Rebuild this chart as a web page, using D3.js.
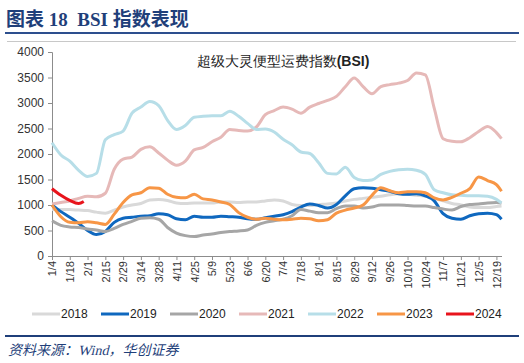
<!DOCTYPE html>
<html>
<head>
<meta charset="utf-8">
<script src="https://cdn.jsdelivr.net/npm/d3@7"></script>
<style>
  body { margin: 0; background: #fff; }
  svg { display: block; }
</style>
</head>
<body>
<div id="chart"></div>
<script>
// tick labels (every 14 days, 2024 calendar)
const tickLabels = ['1/4', '1/18', '2/1', '2/15', '2/29', '3/14', '3/28', '4/11', '4/25', '5/9', '5/23', '6/6', '6/20',
  '7/4', '7/18', '8/1', '8/15', '8/29', '9/12', '9/26', '10/10', '10/24', '11/7', '11/21', '12/5', '12/19'];

// weekly sample days (days after 1/4) plus last reading
const days = d3.range(0, 351, 7).concat([354]);
const days2024 = [0, 7, 14, 21, 25];

const years = ['2018', '2019', '2020', '2021', '2022', '2023', '2024'];
const colors = ['#d9d9d9', '#0f68bf', '#a6a6a6', '#e6b9b8', '#b7dee8', '#f79646', '#e8141c'];

const v2018 = [910, 910, 910, 900, 890, 860, 840, 900, 960, 1000, 1030, 1100, 1110, 1090, 1040, 1030, 1040, 1040,
  1040, 1060, 1060, 1050, 1060, 1060, 1080, 1100, 1080, 1010, 990, 990, 1010, 1020, 1040, 1080, 1110, 1130, 1150,
  1170, 1200, 1220, 1210, 1190, 1170, 1130, 1080, 1030, 1000, 960, 950, 950, 970, 980];
const v2019 = [1000, 870, 760, 640, 500, 420, 480, 660, 740, 760, 780, 790, 830, 810, 730, 710, 780, 760, 760, 780,
  770, 760, 730, 720, 750, 780, 810, 870, 960, 1020, 990, 940, 1010, 1180, 1320, 1340, 1330, 1300, 1270, 1220, 1210,
  1220, 1180, 1080, 830, 740, 720, 790, 830, 840, 810, 720];
const v2020 = [690, 600, 570, 560, 530, 510, 480, 540, 620, 680, 740, 750, 720, 560, 450, 400, 380, 410, 430, 460,
  480, 490, 510, 600, 660, 690, 720, 790, 910, 880, 850, 850, 930, 980, 980, 940, 960, 1000, 1000, 1000, 990, 980,
  980, 950, 920, 900, 970, 1010, 1020, 1040, 1050, 1040];
const v2021 = [1020, 1050, 1080, 1130, 1170, 1160, 1230, 1700, 1900, 1940, 2090, 2140, 2020, 1880, 1780, 1860, 2080,
  2130, 2240, 2330, 2480, 2460, 2450, 2530, 2770, 2850, 2920, 2880, 2800, 2920, 2990, 3050, 3130, 3320, 3490, 3320,
  3180, 3320, 3360, 3390, 3440, 3590, 3550, 2900, 2300, 2250, 2240, 2320, 2440, 2540, 2420, 2300];
const v2022 = [2220, 1980, 1860, 1680, 1560, 1620, 2280, 2380, 2450, 2800, 2920, 3030, 2950, 2660, 2480, 2560, 2720,
  2740, 2750, 2750, 2840, 2740, 2600, 2480, 2490, 2430, 2290, 2180, 2040, 2010, 1830, 1620, 1610, 1740, 1540, 1480,
  1490, 1600, 1660, 1690, 1700, 1680, 1600, 1300, 1240, 1200, 1190, 1180, 1180, 1170, 1110, 1040];
const v2023 = [1000, 770, 660, 650, 670, 650, 620, 820, 1050, 1200, 1240, 1340, 1330, 1210, 1150, 1140, 1210, 1120,
  1100, 1060, 1010, 850, 760, 720, 740, 720, 710, 720, 740, 730, 690, 710, 840, 900, 940, 1000, 1190, 1340, 1280,
  1240, 1260, 1260, 1240, 1140, 1100, 1150, 1230, 1320, 1550, 1480, 1400, 1270];
const v2024 = [1320, 1190, 1090, 1030, 1070];

const yTicks = [0, 500, 1000, 1500, 2000, 2500, 3000, 3500, 4000];

const seriesValues = [v2018, v2019, v2020, v2021, v2022, v2023, v2024];

const width = 524;
const height = 363;

const svg = d3.select('#chart')
  .append('svg')
  .attr('width', width)
  .attr('height', height)
  .style('font-family', 'Arial, "Liberation Sans", sans-serif');

const serif = '"Times New Roman", "Liberation Serif", "Noto Sans CJK SC", serif';

// header
svg.append('text')
  .attr('x', 6)
  .attr('y', 26)
  .attr('fill', '#1f3f7a')
  .style('font-family', serif)
  .style('font-weight', 'bold')
  .style('font-size', '19px')
  .style('white-space', 'pre')
  .text('图表 18  BSI 指数表现');

svg.append('line')
  .attr('x1', 5).attr('x2', 519)
  .attr('y1', 33).attr('y2', 33)
  .attr('stroke', '#2d4f8e')
  .attr('stroke-width', 2);

svg.append('line')
  .attr('x1', 7).attr('x2', 516)
  .attr('y1', 41.5).attr('y2', 41.5)
  .attr('stroke', '#c8c8c8')
  .attr('stroke-width', 1);

// scales
const x = d3.scaleLinear().domain([0, 354]).range([52, 501.5]);
const y = d3.scaleLinear().domain([0, 4000]).range([256, 52]);

// y axis
const yAxis = svg.append('g')
  .attr('transform', 'translate(52,0)')
  .call(d3.axisLeft(y).tickValues(yTicks).tickFormat(d3.format('d')).tickSize(4).tickPadding(4));
yAxis.select('.domain').attr('stroke', '#8c8c8c');
yAxis.selectAll('line').attr('stroke', '#8c8c8c');
yAxis.selectAll('text').attr('fill', '#333').style('font-size', '12px');

// x axis
const tickDays = tickLabels.map((d, i) => i * 14);
const xAxis = svg.append('g')
  .attr('transform', 'translate(0,256)')
  .call(d3.axisBottom(x).tickValues(tickDays).tickFormat((d, i) => tickLabels[i]).tickSize(4).tickSizeOuter(0));
xAxis.select('.domain').attr('stroke', '#8c8c8c');
xAxis.selectAll('line').attr('stroke', '#8c8c8c');
xAxis.selectAll('text')
  .attr('fill', '#333')
  .style('font-size', '11px')
  .attr('text-anchor', 'end')
  .attr('transform', 'rotate(-90)')
  .attr('x', -5)
  .attr('y', 0)
  .attr('dy', '0.35em');

// chart title
const title = svg.append('text')
  .attr('x', 283)
  .attr('y', 66)
  .attr('text-anchor', 'middle')
  .attr('fill', '#222')
  .style('font-size', '14px')
  .style('font-weight', '500');
title.append('tspan').text('超级大灵便型运费指数');
title.append('tspan').style('font-weight', 'bold').text('(BSI)');

// lines
const line = d3.line()
  .x((d) => x(d[0]))
  .y((d) => y(d[1]))
  .curve(d3.curveMonotoneX);

years.forEach((yr, k) => {
  const ds = yr === '2024' ? days2024 : days;
  const pts = seriesValues[k].map((v, i) => [ds[i], v]);
  svg.append('path')
    .datum(pts)
    .attr('d', line)
    .attr('fill', 'none')
    .attr('stroke', colors[k])
    .attr('stroke-width', 3)
    .attr('stroke-linejoin', 'round');
});

// legend
const legend = svg.append('g').attr('transform', 'translate(32,314)');
years.forEach((yr, k) => {
  const g = legend.append('g').attr('transform', `translate(${k * 69},0)`);
  g.append('line')
    .attr('x1', 0).attr('x2', 28)
    .attr('y1', 0).attr('y2', 0)
    .attr('stroke', colors[k])
    .attr('stroke-width', 3);
  g.append('text')
    .attr('x', 29)
    .attr('y', 0)
    .attr('dy', '0.35em')
    .attr('fill', '#222')
    .style('font-size', '12px')
    .text(yr);
});

// footer
svg.append('line')
  .attr('x1', 5).attr('x2', 519)
  .attr('y1', 336).attr('y2', 336)
  .attr('stroke', '#1f3f7a')
  .attr('stroke-width', 2);

svg.append('text')
  .attr('transform', 'translate(8,355) skewX(-14)')
  .attr('fill', '#1f3f7a')
  .style('font-family', serif)
  .style('font-size', '14px')
  .text('资料来源：Wind，华创证券');
</script>
</body>
</html>
